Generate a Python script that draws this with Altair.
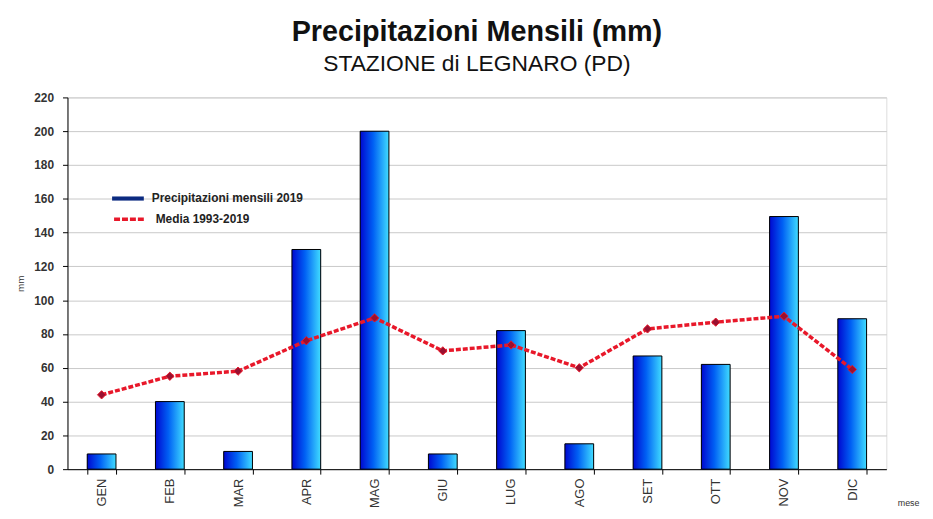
import altair as alt
import pandas as pd

mesi = ["GEN", "FEB", "MAR", "APR", "MAG", "GIU", "LUG", "AGO", "SET", "OTT", "NOV", "DIC"]
prec_2019 = [9, 40, 10.5, 130, 200, 9, 82, 15, 67, 62, 149.5, 89]
media_1993_2019 = [44, 55, 58, 76, 89.5, 70, 73.5, 60, 83, 87, 90.5, 59]
y_ticks = [0, 20, 40, 60, 80, 100, 120, 140, 160, 180, 200, 220]

serie_barre = "Precipitazioni mensili 2019"
serie_linea = "Media 1993-2019"

df = pd.DataFrame({
    "mese": mesi,
    "prec": prec_2019,
    "media": media_1993_2019,
    "s_bar": [serie_barre] * len(mesi),
    "s_line": [serie_linea] * len(mesi),
})

FONT = "Liberation Sans"

x_axis = alt.Axis(
    labelAngle=-90,
    labelAlign="right",
    labelBaseline="middle",
    labelFontSize=13,
    labelColor="#333333",
    labelFont=FONT,
    labelPadding=4,
    tickBand="extent",
    tickSize=5,
    tickColor="#000000",
    domainColor="#000000",
    grid=False,
    title="mese",
    titleFont=FONT,
    titleFontSize=9,
    titleFontWeight="normal",
    titleColor="#333333",
    titleAngle=0,
    titleAlign="left",
    titleBaseline="alphabetic",
    titleX=837,
    titleY=37,
)
x_scale = alt.Scale(paddingInner=0.58, paddingOuter=0.29)

y_scale = alt.Scale(domain=[0, 220], nice=False)
y_axis = alt.Axis(
    values=y_ticks,
    tickCount=len(y_ticks),
    labelOverlap=False,
    labelFontSize=12,
    labelFontWeight="bold",
    labelColor="#333333",
    labelFont=FONT,
    labelPadding=9,
    tickSize=5,
    tickColor="#000000",
    domainColor="#000000",
    gridColor="#c8c8c8",
    gridWidth=1,
    title="mm",
    titleFont=FONT,
    titleFontSize=10,
    titleFontWeight="normal",
    titleColor="#333333",
    titlePadding=8,
)


def X():
    return alt.X("mese:N", sort=mesi, scale=x_scale, axis=x_axis)


def Y(field):
    return alt.Y(field, type="quantitative", scale=y_scale, axis=y_axis)


legend_common = dict(
    title=None,
    orient="none",
    labelFont=FONT,
    labelFontSize=12,
    labelFontWeight="bold",
    labelColor="#222222",
    labelOffset=8,
    padding=0,
)

base = alt.Chart(df)

bars_legend = base.mark_bar(width=29).encode(
    x=X(),
    y=Y("prec"),
    fill=alt.Fill(
        "s_bar:N",
        scale=alt.Scale(domain=[serie_barre], range=["#0b2a80"]),
        legend=alt.Legend(
            legendX=45,
            legendY=86,
            symbolType="M-1,-0.13H1V0.13H-1Z",
            symbolSize=1024,
            symbolStrokeWidth=0,
            **legend_common,
        ),
    ),
)

gradient = alt.Gradient(
    gradient="linear",
    x1=0, x2=1, y1=0, y2=0,
    stops=[
        alt.GradientStop(color="#0008d0", offset=0),
        alt.GradientStop(color="#0060f4", offset=0.45),
        alt.GradientStop(color="#40dcff", offset=1),
    ],
)

bars = base.mark_bar(width=29, color=gradient, stroke="#000000", strokeWidth=1).encode(
    x=X(),
    y=Y("prec"),
)

line = base.mark_line(strokeDash=[5, 2], strokeWidth=3.5).encode(
    x=X(),
    y=Y("media"),
    stroke=alt.Stroke(
        "s_line:N",
        scale=alt.Scale(domain=[serie_linea], range=["#e8182a"]),
        legend=alt.Legend(
            legendX=45,
            legendY=105,
            symbolType="stroke",
            symbolSize=1024,
            symbolStrokeWidth=3.5,
            symbolDash=[6, 2],
            **legend_common,
        ),
    ),
)

points = base.mark_point(
    shape="diamond", filled=True, size=70, fill="#9a1030", stroke="#e8182a", strokeWidth=1, opacity=1
).encode(
    x=X(),
    y=Y("media"),
)

chart = (
    alt.layer(bars_legend, bars, line, points)
    .resolve_legend(fill="independent", stroke="independent")
    .properties(
        width=826,
        height=375,
        autosize=alt.AutoSizeParams(type="none"),
        padding={"left": 60, "top": 88, "right": 39, "bottom": 40},
        title=alt.TitleParams(
            text="Precipitazioni Mensili (mm)",
            subtitle="STAZIONE di LEGNARO  (PD)",
            anchor="middle",
            font=FONT,
            fontSize=29,
            fontWeight="bold",
            color="#111111",
            subtitleFont=FONT,
            subtitleFontSize=23,
            subtitleColor="#111111",
            subtitlePadding=6,
            offset=16,
        ),
    )
    .configure_view(stroke="#999999", strokeWidth=1)
    .configure(background="white")
)

chart.save("out.html", embed_options={"renderer": "svg", "actions": False})
